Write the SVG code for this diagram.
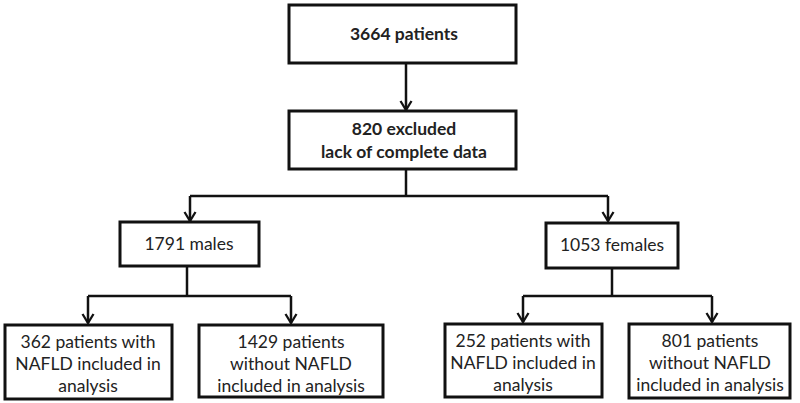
<svg xmlns="http://www.w3.org/2000/svg" width="800" height="403" viewBox="0 0 800 403">
<defs>
<marker id="ah" markerWidth="14" markerHeight="14" refX="11" refY="7" orient="auto" markerUnits="userSpaceOnUse" viewBox="0 0 14 14" overflow="visible">
<path d="M2,1.5 L11,7 L2,12.5" fill="none" stroke="#111" stroke-width="2.3"/>
</marker>
<style>
.box{fill:#fff;stroke:#111;stroke-width:3}
.t{font-family:Lato,"Open Sans","Liberation Sans",sans-serif;font-size:17.5px;fill:#222;text-anchor:middle}
.b{font-weight:bold}
.c{fill:none;stroke:#111;stroke-width:2.5}
</style>
</defs>
<rect width="800" height="403" fill="#fff"/>
<g id="connectors">
<path class="c" d="M406,63 V110" marker-end="url(#ah)"/>
<path class="c" d="M406,169 V196"/>
<path class="c" d="M190,196 H608"/>
<path class="c" d="M190,196 V221" marker-end="url(#ah)"/>
<path class="c" d="M608,196 V221" marker-end="url(#ah)"/>
<path class="c" d="M187,266 V296"/>
<path class="c" d="M88,296 H291"/>
<path class="c" d="M88,296 V323" marker-end="url(#ah)"/>
<path class="c" d="M291,296 V323" marker-end="url(#ah)"/>
<path class="c" d="M612,268 V296"/>
<path class="c" d="M523,296 H712"/>
<path class="c" d="M523,296 V322" marker-end="url(#ah)"/>
<path class="c" d="M712,296 V322" marker-end="url(#ah)"/>
</g>
<g id="n1">
<rect class="box" x="289" y="5" width="227" height="58"/>
<text class="t b" x="404" y="40">3664 patients</text>
</g>
<g id="n2">
<rect class="box" x="289" y="111" width="227" height="58"/>
<text class="t b" x="404" y="135">820 excluded</text>
<text class="t b" x="404" y="158">lack of complete data</text>
</g>
<g id="n3">
<rect class="box" x="120" y="222" width="139" height="44"/>
<text class="t" x="189" y="250">1791 males</text>
</g>
<g id="n4">
<rect class="box" x="546" y="223" width="132" height="45"/>
<text class="t" x="612" y="251">1053 females</text>
</g>
<g id="n5">
<rect class="box" x="5" y="325" width="167" height="74"/>
<text class="t" x="88" y="348">362 patients with</text>
<text class="t" x="88" y="370">NAFLD included in</text>
<text class="t" x="88" y="392">analysis</text>
</g>
<g id="n6">
<rect class="box" x="199" y="325" width="184" height="72"/>
<text class="t" x="291" y="348">1429 patients</text>
<text class="t" x="291" y="370">without NAFLD</text>
<text class="t" x="291" y="392">included in analysis</text>
</g>
<g id="n7">
<rect class="box" x="445" y="324" width="157" height="73"/>
<text class="t" x="523" y="347">252 patients with</text>
<text class="t" x="523" y="369">NAFLD included in</text>
<text class="t" x="523" y="391">analysis</text>
</g>
<g id="n8">
<rect class="box" x="629" y="324" width="161" height="74"/>
<text class="t" x="710" y="347">801 patients</text>
<text class="t" x="710" y="369">without NAFLD</text>
<text class="t" x="710" y="391">included in analysis</text>
</g>
</svg>
